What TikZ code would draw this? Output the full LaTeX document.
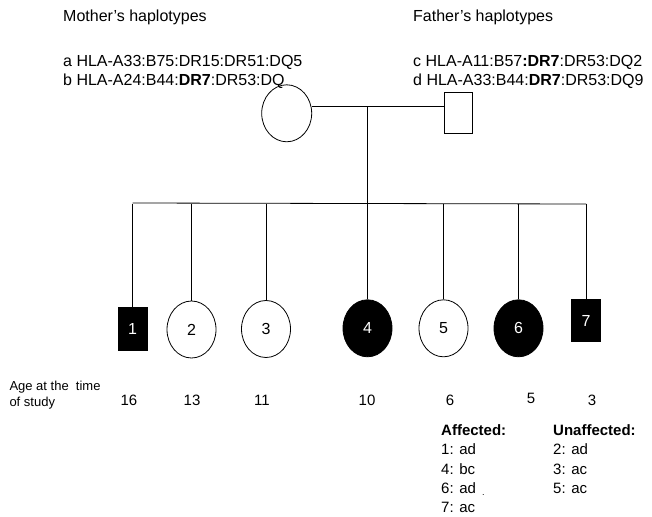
\documentclass[tikz,border=0pt]{standalone}
\usepackage{fontspec}
\setmainfont{Liberation Sans}
\usetikzlibrary{shapes.geometric}
\begin{document}
\begin{tikzpicture}[x=1pt,y=-1pt,
  line/.style={draw=black,line width=0.8pt},
  fem/.style={ellipse,draw=black,line width=0.8pt,inner sep=0pt,minimum width=49pt,minimum height=57pt,font=\fontsize{16}{19}\selectfont},
  male/.style={rectangle,draw=black,line width=0.8pt,inner sep=0pt,minimum width=29pt,minimum height=43pt,font=\fontsize{16}{19}\selectfont},
  aff/.style={fill=black,text=white},
  head/.style={anchor=base west,inner sep=0pt,font=\fontsize{16}{19}\selectfont},
  age/.style={anchor=base,inner sep=0pt,font=\fontsize{15}{18}\selectfont},
  agel/.style={anchor=base west,inner sep=0pt,font=\fontsize{13}{15.8}\selectfont},
  lst/.style={anchor=base west,inner sep=0pt,font=\fontsize{15}{18}\selectfont}
]
\useasboundingbox (0,0) rectangle (652,516);

% headers
\node[head] (mh) at (63,21.7) {Mother's haplotypes};
\node[head] (ma) at (63,66.7) {a HLA-A33:B75:DR15:DR51:DQ5};
\node[head] (mb) at (63,85.7) {b HLA-A24:B44:\textbf{DR7}:DR53:DQ};
\node[head] (fh) at (413,21.7) {Father's haplotypes};
\node[head] (fc) at (413,66.7) {c HLA-A11:B57\textbf{:DR7}:DR53:DQ2};
\node[head] (fd) at (413,85.7) {d HLA-A33:B44:\textbf{DR7}:DR53:DQ9};

% parents
\node[fem,minimum width=50pt,minimum height=57pt] (mother) at (286.7,113.3) {};
\node[male,minimum width=28pt,minimum height=41pt] (father) at (458,112.5) {};
\coordinate (mline) at (367.5,106.7);
\coordinate (sib) at (367.5,203.5);
\draw[line] (mother.east |- mline) -- (father.west |- mline);

% children
\node[male,aff] (c1) at (132.5,329.3) {1};
\node[fem] (c2) at (191.5,329.5) {2};
\node[fem] (c3) at (266,329) {3};
\node[fem,aff] (c4) at (367.5,328.3) {4};
\node[fem] (c5) at (443.5,328.3) {5};
\node[fem,aff] (c6) at (518.5,328.3) {6};
\node[male,aff,minimum height=42pt] (c7) at (586,320.5) {7};

% sibship
\coordinate (sibL) at (c1.north |- sib);
\coordinate (sibR) at (c7.north |- sib);
\draw[line] (mline) -- (c4.north);
\draw[line] ([yshift=0.5pt]sibL) -- ([yshift=-0.5pt]sibR);
\foreach \c in {c1,c2,c3,c5,c6,c7}{
  \draw[line] (\c.north |- sib) -- (\c.north);
}

% ages
\node[agel] (agel1) at (9.3,390.7) {Age at the~ time};
\node[agel] (agel2) at (9.3,406.5) {of study};
\node[age] (a1) at (129,405) {16};
\node[age] (a2) at (192,405) {13};
\node[age] (a3) at (262,405) {11};
\node[age] (a4) at (367,405) {10};
\node[age] (a5) at (450,405) {6};
\node[age] (a6) at (531,403) {5};
\node[age] (a7) at (592,405) {3};

% lists
\node[lst] (ah) at (441,435) {\textbf{Affected:}};
\node[lst] (a1l) at (441,454.5) {1: ad};
\node[lst] (a4l) at (441,474) {4: bc};
\node[lst] (a6l) at (441,493.5) {6: ad};
\node[lst,font=\fontsize{9}{10}\selectfont] (dot) at (482,495) {.};
\node[lst] (a7l) at (441,512.5) {7: ac};
\node[lst] (uh) at (553,435) {\textbf{Unaffected:}};
\node[lst] (u2) at (553,454.5) {2: ad};
\node[lst] (u3) at (553,474) {3: ac};
\node[lst] (u5) at (553,493.5) {5: ac};
\end{tikzpicture}
\end{document}
